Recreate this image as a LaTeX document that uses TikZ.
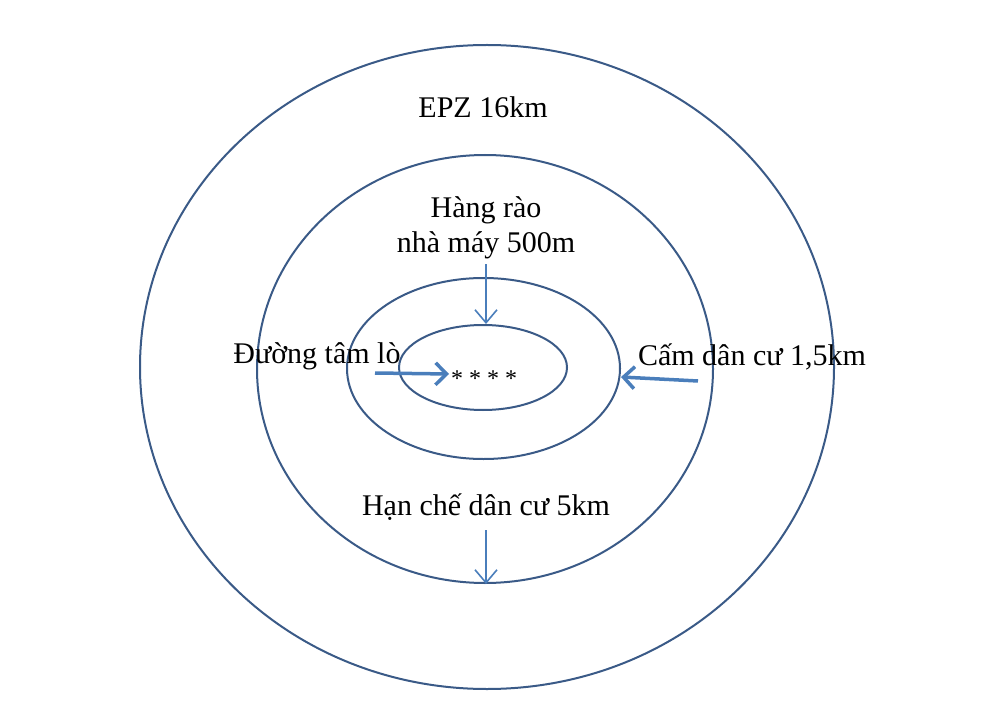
\documentclass[tikz,border=0pt]{standalone}
\usepackage{fontspec}
\setmainfont{Liberation Serif}
\usetikzlibrary{shapes.geometric,arrows.meta}
\definecolor{ringcol}{HTML}{3A5A87}
\definecolor{arrcol}{HTML}{4A7EBB}
\tikzset{
  ring/.style={ellipse, draw=ringcol, line width=2pt, inner sep=0pt},
  lbl/.style={font=\fontsize{30}{34}\selectfont, inner sep=0pt, anchor=base},
  thinarrow/.style={draw=arrcol, line width=1.6pt, -{Straight Barb[length=13pt,width=22pt,line width=1.6pt]}},
  thickarrow/.style={draw=arrcol, line width=3.5pt, -{Straight Barb[length=11pt,width=22pt,line width=3.5pt]}}
}
\begin{document}
\begin{tikzpicture}[x=1pt,y=-1pt]
\useasboundingbox (0,0) rectangle (1003,727);
\node[ring, minimum width=694pt, minimum height=644pt] (r4) at (487,367) {};
\node[ring, minimum width=456pt, minimum height=428pt] (r3) at (485,369) {};
\node[ring, minimum width=273pt, minimum height=181pt] (r2) at (483.5,368.5) {};
\node[ring, minimum width=168pt, minimum height=85pt] (r1) at (483,367.5) {};

\node[lbl] (epz) at (483,118) {EPZ 16km};
\node[lbl] (hr1) at (486,218) {Hàng rào};
\node[lbl] (hr2) at (486,253) {nhà máy 500m};
\node[lbl] (dtl) at (317,363) {Đường tâm lò};
\node[lbl] (cam) at (752,365) {Cấm dân cư 1,5km};
\node[lbl] (hc) at (486,515) {Hạn chế dân cư 5km};
\node[font=\fontsize{24}{28}\selectfont, inner sep=0pt, anchor=base] (stars) at (484,386) {* * * *};

\coordinate (a1s) at (486,264);
\coordinate (a2s) at (375,373);
\coordinate (a2e) at (449,374);
\coordinate (a3s) at (698,381);
\coordinate (a3e) at (621,377);
\coordinate (a4s) at (486,530);

\draw[thinarrow] (a1s) -- (a1s |- r1.north);
\draw[thickarrow] (a2s) -- (a2e);
\draw[thickarrow] (a3s) -- (a3e);
\draw[thinarrow] (a4s) -- (a4s |- r3.south);
\end{tikzpicture}
\end{document}
